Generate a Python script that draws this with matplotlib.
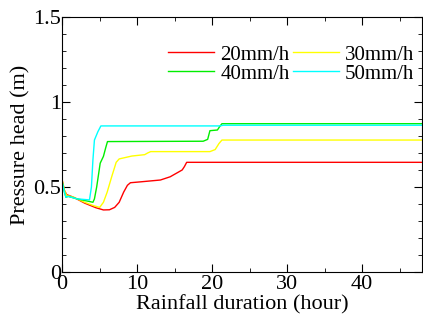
import matplotlib.pyplot as plt
from matplotlib.ticker import MultipleLocator

plt.rcParams['font.family'] = ['Liberation Serif', 'DejaVu Serif']

# values
t20 = [0, 0.3, 0.6, 1.5, 3.0, 4.5, 5.5, 6.3, 7.0, 7.6, 8.2, 8.7, 9.1, 10.4, 13.1, 14.4, 15.4, 16.0, 16.3, 16.6, 48]
h20 = [0.54, 0.48, 0.455, 0.44, 0.405, 0.378, 0.365, 0.366, 0.38, 0.41, 0.47, 0.51, 0.525, 0.53, 0.541, 0.56, 0.585, 0.60, 0.62, 0.645, 0.645]

t30 = [0, 0.3, 0.6, 1.5, 3.0, 4.2, 5.0, 5.5, 6.0, 6.6, 7.2, 7.6, 9.3, 11.0, 11.4, 11.8, 19.7, 20.4, 20.9, 21.3, 48]
h30 = [0.54, 0.48, 0.45, 0.44, 0.41, 0.39, 0.38, 0.41, 0.47, 0.56, 0.645, 0.665, 0.682, 0.69, 0.70, 0.708, 0.708, 0.72, 0.755, 0.776, 0.776]

t40 = [0, 0.3, 0.5, 0.8, 2.0, 3.6, 4.1, 4.3, 4.6, 5.07, 5.5, 5.8, 6.04, 18.8, 19.4, 19.7, 20.7, 21.0, 21.3, 48]
h40 = [0.53, 0.47, 0.44, 0.445, 0.43, 0.415, 0.41, 0.43, 0.50, 0.64, 0.68, 0.73, 0.767, 0.769, 0.78, 0.831, 0.835, 0.855, 0.872, 0.872]

t50 = [0, 0.3, 0.5, 0.8, 2.0, 3.64, 3.9, 4.1, 4.3, 4.76, 5.16, 21.0, 21.5, 48]
h50 = [0.53, 0.47, 0.44, 0.445, 0.43, 0.424, 0.5, 0.66, 0.776, 0.825, 0.859, 0.859, 0.863, 0.863]

fig = plt.figure(figsize=(4.23, 3.25), dpi=100)
ax = fig.add_axes([0.147, 0.163, 0.851, 0.785])

l20, = ax.plot(t20, h20, color='#ff0000', lw=1, label='20mm/h')
l30, = ax.plot(t30, h30, color='#ffff00', lw=1, label='30mm/h')
l40, = ax.plot(t40, h40, color='#00ee00', lw=1, label='40mm/h')
l50, = ax.plot(t50, h50, color='#00ffff', lw=1, label='50mm/h')

ax.set_xlim(0, 48)
ax.set_ylim(0, 1.5)
ax.xaxis.set_major_locator(MultipleLocator(10))
ax.xaxis.set_minor_locator(MultipleLocator(5))
ax.yaxis.set_minor_locator(MultipleLocator(0.1))
ax.set_yticks([0, 0.5, 1, 1.5])
ax.set_yticklabels(['0', '0.5', '1', '1.5'])
ax.tick_params(which='both', direction='in', top=True, right=True, labelsize=16, pad=1)
ax.tick_params(axis='x', pad=2)
ax.tick_params(which='major', length=6)
ax.tick_params(which='minor', length=3)

ax.set_xlabel('Rainfall duration (hour)', fontsize=16, labelpad=1)
ax.set_ylabel('Pressure head (m)', fontsize=16, labelpad=2)

ax.legend(handles=[l20, l40, l30, l50], ncol=2, frameon=False, fontsize=15,
          loc='upper right', bbox_to_anchor=(0.978, 0.89), handlelength=2.2,
          handletextpad=0.3, columnspacing=0.15, labelspacing=-0.03,
          borderaxespad=0, borderpad=0)

fig.savefig('out.png')
